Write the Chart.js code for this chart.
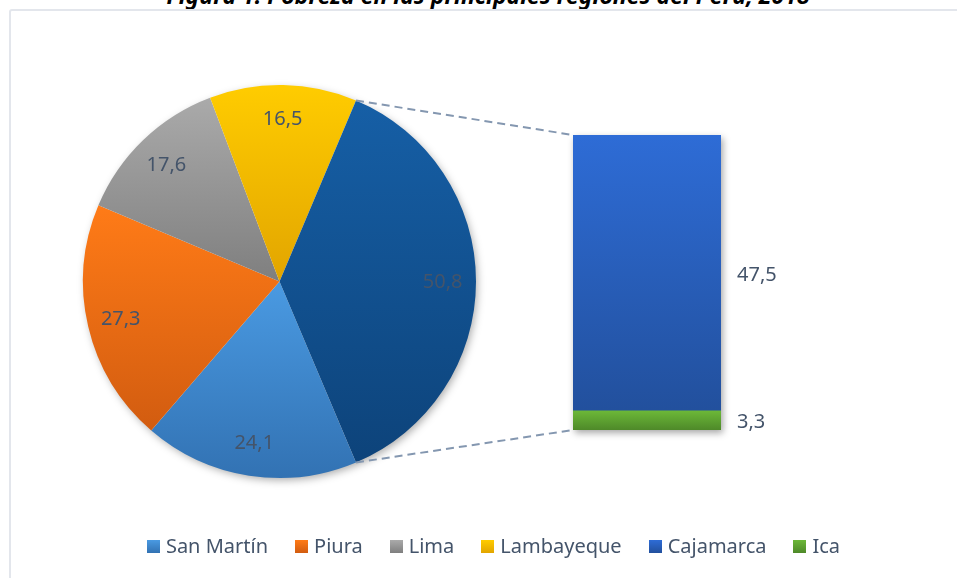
<!DOCTYPE html>
<html lang="es">
<head>
<meta charset="utf-8">
<title>Pobreza en las principales regiones del Perú, 2018</title>
<script src="https://cdn.jsdelivr.net/npm/chart.js@4.4.1/dist/chart.umd.min.js"></script>
<style>
  html, body { margin: 0; padding: 0; background: #fff; }
  #wrap { position: relative; width: 957px; height: 578px; overflow: hidden; font-family: "Noto Sans", sans-serif; }
  #title { position: absolute; left: 0; top: -17px; width: 976px; text-align: center; font: italic bold 23px/24px "Noto Sans", sans-serif; color: #000; white-space: nowrap; }
  #frame { position: absolute; left: 9px; top: 9px; width: 970px; height: 620px; border: 2px solid #e3e6ec; border-radius: 3px; box-sizing: border-box; }
  canvas { position: absolute; left: 0; top: 0; }
  #legend { position: absolute; left: 0; top: 532px; width: 987px; display: flex; justify-content: center; gap: 27px; font-size: 20px; line-height: 28px; color: #44546a; white-space: nowrap; }
  #legend .item { display: flex; align-items: center; }
  #legend .box { width: 13px; height: 13px; margin-right: 6px; }
</style>
</head>
<body>
<div id="wrap">
  <div id="title">Figura 1. Pobreza en las principales regiones del Perú, 2018</div>
  <div id="frame"></div>
  <canvas id="barChart" width="957" height="578"></canvas>
  <canvas id="pieChart" width="957" height="578"></canvas>
  <div id="legend"></div>
</div>
<script>
// main pie: the last slice groups the regions split out in the bar
const pieLabels = ['San Martín', 'Piura', 'Lima', 'Lambayeque', 'Otros'];
const pieValues = [24.1, 27.3, 17.6, 16.5, 50.8];
// secondary bar (top to bottom)
const barLabels = ['Cajamarca', 'Ica'];
const barValues = [47.5, 3.3];

// [top, bottom] gradient colours
const pieColors = [
  ['#4a9ae2', '#3272b3'],
  ['#ff7b17', '#d25c10'],
  ['#aaaaaa', '#7f7f7f'],
  ['#ffcc00', '#e2a500'],
  ['#165fa6', '#0d437a']
];
const barColors = [
  ['#2e6cd6', '#22509d'],
  ['#6cb838', '#4e8929']
];
const labelColor = '#44546a';
const labelFont = '20px "Noto Sans", sans-serif';

const fmt = v => v.toFixed(1).replace('.', ',');
const total = pieValues.reduce((a, b) => a + b, 0);
const barTotal = barValues.reduce((a, b) => a + b, 0);
// centre the grouped slice on the right-hand side
const rotation = 90 + pieValues[pieValues.length - 1] / total * 180;

function vGradient(ctx, top, bottom, c) {
  if (!isFinite(top) || !isFinite(bottom) || top === bottom) return c[0];
  const g = ctx.createLinearGradient(0, top, 0, bottom);
  g.addColorStop(0, c[0]);
  g.addColorStop(1, c[1]);
  return g;
}

function pieGradient(context) {
  const chart = context.chart;
  const area = chart.chartArea;
  const i = context.dataIndex;
  if (!area) return pieColors[i][0];
  const cy = (area.top + area.bottom) / 2;
  const r = Math.min(area.right - area.left, area.bottom - area.top) / 2;
  let before = 0;
  for (let k = 0; k < i; k++) before += pieValues[k];
  const a0 = (rotation - 90) * Math.PI / 180 + before / total * 2 * Math.PI;
  const a1 = a0 + pieValues[i] / total * 2 * Math.PI;
  let top = Math.min(cy, cy + r * Math.sin(a0), cy + r * Math.sin(a1));
  let bottom = Math.max(cy, cy + r * Math.sin(a0), cy + r * Math.sin(a1));
  for (let n = -2; n <= 3; n++) {
    const down = Math.PI / 2 + n * 2 * Math.PI;
    const up = -Math.PI / 2 + n * 2 * Math.PI;
    if (down > a0 && down < a1) bottom = cy + r;
    if (up > a0 && up < a1) top = cy - r;
  }
  return vGradient(chart.ctx, top, bottom, pieColors[i]);
}

function barGradient(i) {
  return function (context) {
    const area = context.chart.chartArea;
    if (!area) return barColors[i][0];
    // values stacked below this segment
    let base = 0;
    for (let k = i + 1; k < barValues.length; k++) base += barValues[k];
    const h = area.bottom - area.top;
    const top = area.bottom - (base + barValues[i]) / barTotal * h;
    const bottom = area.bottom - base / barTotal * h;
    return vGradient(context.chart.ctx, top, bottom, barColors[i]);
  };
}

const barShadow = {
  id: 'barShadow',
  beforeDatasetsDraw(chart) {
    const els = chart.data.datasets.map((d, i) => chart.getDatasetMeta(i).data[0]);
    const left = els[0].x - els[0].width / 2;
    const top = Math.min(...els.map(e => e.y));
    const bottom = Math.max(...els.map(e => e.base));
    const ctx = chart.ctx;
    ctx.save();
    ctx.shadowColor = 'rgba(0,0,0,0.35)';
    ctx.shadowBlur = 7;
    ctx.shadowOffsetX = 2;
    ctx.shadowOffsetY = 3;
    ctx.fillStyle = '#fff';
    ctx.fillRect(left, top, els[0].width, bottom - top);
    ctx.restore();
  }
};

const barValueLabels = {
  id: 'barValueLabels',
  afterDatasetsDraw(chart) {
    const ctx = chart.ctx;
    ctx.save();
    ctx.font = labelFont;
    ctx.fillStyle = labelColor;
    ctx.textAlign = 'left';
    ctx.textBaseline = 'middle';
    chart.data.datasets.forEach((d, i) => {
      const el = chart.getDatasetMeta(i).data[0];
      ctx.fillText(fmt(d.data[0]), el.x + el.width / 2 + 16, (el.y + el.base) / 2 + 2);
    });
    ctx.restore();
  }
};

// stacked bar: first dataset sits at the bottom, so reverse the order
const barDatasets = barLabels.map((label, i) => ({
  label: label,
  data: [barValues[i]],
  backgroundColor: barGradient(i),
  borderWidth: 0,
  barPercentage: 1,
  categoryPercentage: 1
})).reverse();

const barChart = new Chart(document.getElementById('barChart'), {
  type: 'bar',
  data: { labels: [''], datasets: barDatasets },
  options: {
    responsive: false,
    animation: false,
    layout: { padding: { left: 573, right: 236, top: 135, bottom: 148 } },
    plugins: { legend: { display: false }, tooltip: { enabled: false } },
    scales: {
      x: { display: false, stacked: true },
      y: { display: false, stacked: true, min: 0, max: barTotal }
    }
  },
  plugins: [barShadow, barValueLabels]
});

const pieShadow = {
  id: 'pieShadow',
  beforeDatasetsDraw(chart) {
    const arc = chart.getDatasetMeta(0).data[0];
    const ctx = chart.ctx;
    ctx.save();
    ctx.shadowColor = 'rgba(0,0,0,0.35)';
    ctx.shadowBlur = 8;
    ctx.shadowOffsetX = 2;
    ctx.shadowOffsetY = 3;
    ctx.fillStyle = '#fff';
    ctx.beginPath();
    ctx.arc(arc.x, arc.y, arc.outerRadius - 1, 0, 2 * Math.PI);
    ctx.fill();
    ctx.restore();
  }
};

const pieValueLabels = {
  id: 'pieValueLabels',
  afterDatasetsDraw(chart) {
    const ctx = chart.ctx;
    ctx.save();
    ctx.font = labelFont;
    ctx.fillStyle = labelColor;
    ctx.textAlign = 'center';
    ctx.textBaseline = 'middle';
    chart.getDatasetMeta(0).data.forEach((arc, i) => {
      const mid = (arc.startAngle + arc.endAngle) / 2;
      const r = arc.outerRadius * 0.83;
      ctx.fillText(fmt(pieValues[i]), arc.x + Math.cos(mid) * r, arc.y + Math.sin(mid) * r + 1);
    });
    ctx.restore();
  }
};

// dashed lines from the grouped slice to the bar
const connectors = {
  id: 'connectors',
  afterDraw(chart) {
    const arcs = chart.getDatasetMeta(0).data;
    const other = arcs[arcs.length - 1];
    const R = other.outerRadius;
    const els = barChart.data.datasets.map((d, i) => barChart.getDatasetMeta(i).data[0]);
    const left = els[0].x - els[0].width / 2;
    const top = Math.min(...els.map(e => e.y));
    const bottom = Math.max(...els.map(e => e.base));
    const ctx = chart.ctx;
    ctx.save();
    ctx.strokeStyle = '#8497b0';
    ctx.lineWidth = 2;
    ctx.setLineDash([8, 5]);
    ctx.beginPath();
    ctx.moveTo(other.x + Math.cos(other.startAngle) * R, other.y + Math.sin(other.startAngle) * R);
    ctx.lineTo(left, top);
    ctx.moveTo(other.x + Math.cos(other.endAngle) * R, other.y + Math.sin(other.endAngle) * R);
    ctx.lineTo(left, bottom);
    ctx.stroke();
    ctx.restore();
  }
};

new Chart(document.getElementById('pieChart'), {
  type: 'pie',
  data: {
    labels: pieLabels,
    datasets: [{
      data: pieValues,
      backgroundColor: pieGradient,
      borderWidth: 0,
      hoverOffset: 0
    }]
  },
  options: {
    responsive: false,
    animation: false,
    rotation: rotation,
    layout: { padding: { left: 83, right: 481, top: 85, bottom: 100 } },
    plugins: { legend: { display: false }, tooltip: { enabled: false } }
  },
  plugins: [pieShadow, pieValueLabels, connectors]
});

// legend: the pie regions (without the grouped slice) followed by the bar regions
const legendItems = pieLabels.slice(0, -1).map((l, i) => [l, pieColors[i]])
  .concat(barLabels.map((l, i) => [l, barColors[i]]));
const legend = document.getElementById('legend');
legendItems.forEach(([label, c]) => {
  const item = document.createElement('div');
  item.className = 'item';
  const box = document.createElement('span');
  box.className = 'box';
  box.style.background = 'linear-gradient(' + c[0] + ', ' + c[1] + ')';
  const text = document.createElement('span');
  text.textContent = label;
  item.appendChild(box);
  item.appendChild(text);
  legend.appendChild(item);
});
</script>
</body>
</html>
